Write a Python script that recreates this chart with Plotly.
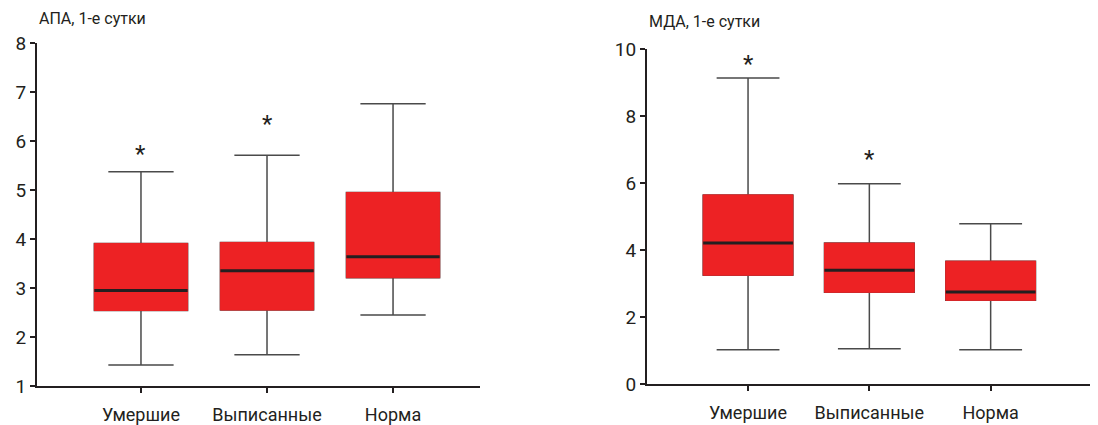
import plotly.graph_objects as go

categories = ["Умершие", "Выписанные", "Норма"]

# АПА, 1-е сутки
apa_low = [1.43, 1.64, 2.45]
apa_q1 = [2.54, 2.55, 3.21]
apa_med = [2.95, 3.35, 3.64]
apa_q3 = [3.91, 3.93, 4.95]
apa_high = [5.37, 5.71, 6.76]
apa_star_cats = ["Умершие", "Выписанные"]
apa_star_y = [5.78, 6.39]

# МДА, 1-е сутки
mda_low = [1.02, 1.05, 1.02]
mda_q1 = [3.25, 2.74, 2.50]
mda_med = [4.21, 3.40, 2.75]
mda_q3 = [5.65, 4.21, 3.67]
mda_high = [9.14, 5.98, 4.79]
mda_star_cats = ["Умершие", "Выписанные"]
mda_star_y = [9.63, 6.81]

RED = "#ED2224"
DARK = "#231F20"
WHISK = "#4a4a4a"
FONT = "Roboto"
BOXW = 0.74

fig = go.Figure()


def add_boxes(low, q1, med, q3, high, xa, ya):
    # whiskers
    fig.add_trace(go.Box(x=categories, q1=q1, median=med, q3=q3,
                         lowerfence=low, upperfence=high, width=BOXW,
                         fillcolor=RED, line=dict(color=WHISK, width=1.5),
                         whiskerwidth=0.7, boxpoints=False,
                         xaxis=xa, yaxis=ya, showlegend=False, hoverinfo="skip"))
    # red box covering outline
    fig.add_trace(go.Box(x=categories, q1=q1, median=med, q3=q3,
                         lowerfence=q1, upperfence=q3, width=BOXW,
                         fillcolor=RED, line=dict(color=RED, width=1),
                         whiskerwidth=0, boxpoints=False,
                         xaxis=xa, yaxis=ya, showlegend=False, hoverinfo="skip"))
    # median line
    fig.add_trace(go.Box(x=categories, q1=med, median=med, q3=med,
                         lowerfence=med, upperfence=med, width=BOXW,
                         fillcolor=DARK, line=dict(color=DARK, width=3),
                         whiskerwidth=0, boxpoints=False,
                         xaxis=xa, yaxis=ya, showlegend=False, hoverinfo="skip"))


add_boxes(apa_low, apa_q1, apa_med, apa_q3, apa_high, "x", "y")
add_boxes(mda_low, mda_q1, mda_med, mda_q3, mda_high, "x2", "y2")

for c, yv in zip(apa_star_cats, apa_star_y):
    fig.add_annotation(x=c, y=yv, xref="x", yref="y", text="*", showarrow=False, yshift=-2.5,
                       font=dict(family=FONT, size=24, color=DARK), yanchor="middle")
for c, yv in zip(mda_star_cats, mda_star_y):
    fig.add_annotation(x=c, y=yv, xref="x2", yref="y2", text="*", showarrow=False, yshift=-2.5,
                       font=dict(family=FONT, size=24, color=DARK), yanchor="middle")

W, H = 1098, 425
OFF = 8  # page body margin

fig.add_annotation(x=0, y=1 - (19 - OFF) / H, xref="x domain", yref="paper", text="АПА, 1-е сутки",
                   showarrow=False, xanchor="left", yanchor="middle",
                   font=dict(family=FONT, size=16, color=DARK))
fig.add_annotation(x=0, y=1 - (21 - OFF) / H, xref="x2 domain", yref="paper", text="МДА, 1-е сутки",
                   showarrow=False, xanchor="left", yanchor="middle",
                   font=dict(family=FONT, size=16, color=DARK))

axis_common = dict(showline=True, linecolor=DARK, linewidth=2, ticks="outside",
                   ticklen=5, tickwidth=2, tickcolor=DARK, showgrid=False, zeroline=False,
                   automargin=False,
                   tickfont=dict(family=FONT, size=19, color=DARK))
xfont = dict(family=FONT, size=18, color=DARK)

fig.update_layout(
    width=W, height=H, margin=dict(l=0, r=0, t=0, b=0),
    plot_bgcolor="white", paper_bgcolor="white",
    boxmode="overlay", boxgap=0.26, boxgroupgap=0, showlegend=False,
    xaxis=dict(domain=[(37 - OFF) / W, (480 - OFF) / W], range=[-0.825, 2.69], anchor="y",
               type="category", categoryorder="array", categoryarray=categories,
               ticklabelstandoff=6, **{**axis_common, "tickfont": xfont}),
    yaxis=dict(domain=[(H - 386 + OFF) / H, (H - 43 + OFF) / H], range=[1, 8], anchor="x",
               tickvals=[1, 2, 3, 4, 5, 6, 7, 8], **axis_common),
    xaxis2=dict(domain=[(647 - OFF) / W, (1098 - OFF) / W], range=[-0.833, 2.885], anchor="y2",
                type="category", categoryorder="array", categoryarray=categories,
                ticklabelstandoff=6, **{**axis_common, "tickfont": xfont}),
    yaxis2=dict(domain=[(H - 384 + OFF) / H, (H - 49.3 + OFF) / H], range=[0, 10], anchor="x2",
                tickvals=[0, 2, 4, 6, 8, 10], **axis_common),
)

fig.write_html("out.html")
